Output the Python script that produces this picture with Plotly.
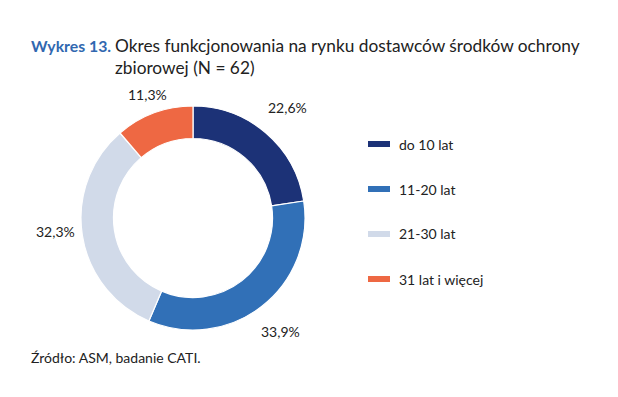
import math
import plotly.graph_objects as go

categories = ["do 10 lat", "11-20 lat", "21-30 lat", "31 lat i więcej"]
values = [22.6, 33.9, 32.3, 11.3]
labels_txt = ["22,6%", "33,9%", "32,3%", "11,3%"]
colors = ["#1C3277", "#3170B7", "#D1DAE9", "#EE6843"]

W, H = 618, 397
OX, OY = 8, 8  # page body offset
FONT = "Lato"
TXT = "#222222"


def px2x(p):
    return (p - OX) / W


def py2y(p):
    return 1 - (p - OY) / H


# donut geometry (page pixels)
cx, cy, R = 193, 218, 112
# label placement tweaks (distance from centre, vertical nudge), layout only
label_r = [145, 143, 139, 132]
label_nudge_y = [0, 0, -8, 0]

fig = go.Figure()
fig.add_trace(go.Pie(
    labels=categories, values=values, hole=0.71, sort=False,
    direction="clockwise", rotation=0,
    marker=dict(colors=colors, line=dict(color="white", width=1.2)),
    textinfo="none", hoverinfo="label+percent", showlegend=False,
    domain=dict(x=[px2x(cx - R), px2x(cx + R)],
                y=[py2y(cy + R), py2y(cy - R)]),
))

ann = []
total = sum(values)
cum = 0
for v, t, r, ny in zip(values, labels_txt, label_r, label_nudge_y):
    mid = (cum + v / 2) / total * 2 * math.pi
    cum += v
    px = cx + r * math.sin(mid)
    py = cy - r * math.cos(mid) + ny
    ann.append(dict(x=px2x(px), y=py2y(py), xref="paper", yref="paper",
                    text=t, showarrow=False, xanchor="center", yanchor="middle",
                    font=dict(family=FONT, size=14, color=TXT)))

shapes = []
for i, (c, col) in enumerate(zip(categories, colors)):
    yy = 144 + 45 * i
    shapes.append(dict(type="rect", xref="paper", yref="paper",
                       x0=px2x(368), x1=px2x(390), y0=py2y(yy + 3), y1=py2y(yy - 3),
                       fillcolor=col, line=dict(width=0)))
    ann.append(dict(x=px2x(397), y=py2y(yy), xref="paper", yref="paper",
                    text=c, showarrow=False, xanchor="left", yanchor="middle",
                    font=dict(family=FONT, size=14, color=TXT)))

ann.append(dict(x=px2x(29), y=py2y(45), xref="paper", yref="paper",
                text="<b>Wykres 13.</b>", showarrow=False, xanchor="left", yanchor="middle",
                font=dict(family=FONT, size=15.8, color="#3168B0")))
ann.append(dict(x=px2x(113), y=py2y(33), xref="paper", yref="paper",
                text="Okres funkcjonowania na rynku dostawców środków ochrony<br>zbiorowej (N = 62)",
                showarrow=False, xanchor="left", yanchor="top", align="left",
                font=dict(family=FONT, size=17.3, color=TXT)))
ann.append(dict(x=px2x(29), y=py2y(357), xref="paper", yref="paper",
                text="Źródło: ASM, badanie CATI.", showarrow=False,
                xanchor="left", yanchor="middle",
                font=dict(family=FONT, size=14, color=TXT)))

fig.update_layout(width=W, height=H, margin=dict(l=0, r=0, t=0, b=0),
                  paper_bgcolor="white", plot_bgcolor="white",
                  annotations=ann, shapes=shapes, showlegend=False)
fig.write_html("out.html")
